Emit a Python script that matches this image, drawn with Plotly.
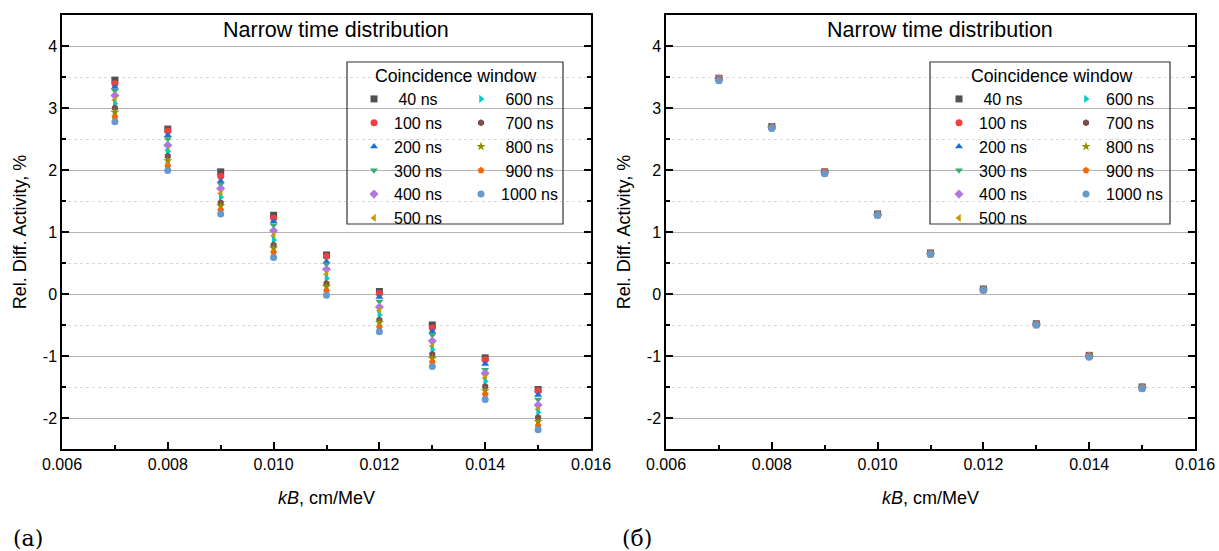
import plotly.graph_objects as go

W, H = 1219, 551

kB = [0.007, 0.008, 0.009, 0.010, 0.011, 0.012, 0.013, 0.014, 0.015]
labels = ["40 ns", "100 ns", "200 ns", "300 ns", "400 ns", "500 ns",
          "600 ns", "700 ns", "800 ns", "900 ns", "1000 ns"]
y_tickvals = [-2, -1, 0, 1, 2, 3, 4]
y_ticktext = ["-2", "-1", "0", "1", "2", "3", "4"]

# (a) series
a40 = [3.45, 2.66, 1.97, 1.27, 0.63, 0.04, -0.50, -1.03, -1.54]
a100 = [3.39, 2.63, 1.90, 1.22, 0.61, 0.01, -0.55, -1.06, -1.56]
a200 = [3.34, 2.56, 1.82, 1.17, 0.52, -0.05, -0.61, -1.13, -1.63]
a300 = [3.28, 2.50, 1.77, 1.11, 0.48, -0.12, -0.66, -1.22, -1.70]
a400 = [3.20, 2.40, 1.70, 1.02, 0.40, -0.21, -0.76, -1.28, -1.79]
a500 = [3.13, 2.32, 1.62, 0.94, 0.32, -0.27, -0.84, -1.35, -1.86]
a600 = [3.07, 2.30, 1.56, 0.87, 0.25, -0.34, -0.90, -1.41, -1.91]
a700 = [3.00, 2.22, 1.47, 0.79, 0.17, -0.42, -0.97, -1.49, -1.99]
a800 = [2.93, 2.15, 1.42, 0.74, 0.12, -0.46, -1.04, -1.56, -2.06]
a900 = [2.85, 2.06, 1.35, 0.67, 0.05, -0.54, -1.10, -1.62, -2.13]
a1000 = [2.78, 1.99, 1.29, 0.59, -0.02, -0.61, -1.17, -1.70, -2.19]

# (б) series
b40 = [3.48, 2.70, 1.97, 1.29, 0.66, 0.08, -0.48, -0.99, -1.50]
b100 = [3.48, 2.70, 1.97, 1.29, 0.66, 0.08, -0.48, -0.99, -1.50]
b200 = [3.47, 2.69, 1.97, 1.29, 0.66, 0.08, -0.48, -1.00, -1.50]
b300 = [3.47, 2.69, 1.96, 1.28, 0.66, 0.08, -0.49, -1.00, -1.51]
b400 = [3.47, 2.69, 1.96, 1.28, 0.65, 0.07, -0.49, -1.00, -1.51]
b500 = [3.46, 2.69, 1.96, 1.28, 0.65, 0.07, -0.49, -1.00, -1.51]
b600 = [3.46, 2.68, 1.96, 1.28, 0.65, 0.07, -0.49, -1.00, -1.51]
b700 = [3.46, 2.68, 1.95, 1.28, 0.65, 0.07, -0.49, -1.01, -1.52]
b800 = [3.45, 2.68, 1.95, 1.27, 0.64, 0.06, -0.50, -1.01, -1.52]
b900 = [3.45, 2.67, 1.95, 1.27, 0.64, 0.06, -0.50, -1.01, -1.52]
b1000 = [3.44, 2.67, 1.94, 1.27, 0.64, 0.06, -0.50, -1.02, -1.53]

series_a = [a40, a100, a200, a300, a400, a500, a600, a700, a800, a900, a1000]
series_b = [b40, b100, b200, b300, b400, b500, b600, b700, b800, b900, b1000]

colors = ["#515151", "#F14040", "#1A6FDF", "#37AD6B", "#B177DE", "#CC9900",
          "#00CBCC", "#7D4E4E", "#8E8E00", "#FB6501", "#6699CC"]
symbols = ["square", "circle", "triangle-up", "triangle-down", "diamond",
           "triangle-left", "triangle-right", "hexagon", "star", "pentagon", "circle"]
# left padding (non-breaking spaces) of legend labels in each panel
pads_a = [1, 0, 0, 0, 0, 0, 1, 1, 1, 1, 0]
pads_b = [1, 0, 0, 0, 0, 0, 0, 0, 0, 0, 0]

FONT = "Liberation Sans, Arial, sans-serif"

fig = go.Figure()

for series, pads, xa, ya, lg1, lg2 in [
        (series_a, pads_a, "x", "y", "legend", "legend2"),
        (series_b, pads_b, "x2", "y2", "legend3", "legend4")]:
    for i, (lab, vals) in enumerate(zip(labels, series)):
        fig.add_trace(go.Scatter(
            x=kB, y=vals, mode="markers", name="\u00a0" * pads[i] + lab,
            xaxis=xa, yaxis=ya,
            legend=lg1 if i < 6 else lg2,
            marker=dict(symbol=symbols[i], color=colors[i], size=7,
                        line=dict(width=0)),
        ))

# window-pixel -> paper coordinate helpers
def px_x(v):
    return v / W

def px_y(v):
    return 1 - v / H

dom_a = [px_x(62), px_x(591)]
dom_b = [px_x(666), px_x(1195)]
dom_y = [px_y(449), px_y(15)]

def xaxis_cfg(domain, anchor):
    return dict(
        domain=domain, anchor=anchor, range=[0.006, 0.016],
        tick0=0.006, dtick=0.002, tickformat=".3f",
        ticks="inside", ticklen=7, tickwidth=1.5, tickcolor="black",
        minor=dict(dtick=0.001, ticks="inside", ticklen=4, tickcolor="black", showgrid=False),
        showline=True, linecolor="black", linewidth=1.5, mirror=True,
        showgrid=False, zeroline=False,
        tickfont=dict(family=FONT, size=16, color="black"),
        title=dict(text="<i>kB</i>, cm/MeV", font=dict(family=FONT, size=18, color="black"), standoff=19),
        automargin=False,
    )

def yaxis_cfg(anchor):
    return dict(
        domain=dom_y, anchor=anchor, range=[-2.5, 4.5],
        tickvals=y_tickvals, ticktext=y_ticktext,
        ticks="inside", ticklen=7, tickwidth=1.5, tickcolor="black",
        minor=dict(dtick=0.5, ticks="inside", ticklen=4, tickcolor="black",
                   showgrid=True, gridcolor="#d9d9d9", griddash="dot", gridwidth=1),
        showline=True, linecolor="black", linewidth=1.5, mirror="ticks",
        showgrid=True, gridcolor="#b4b4b4", gridwidth=1.2,
        zeroline=False,
        tickfont=dict(family=FONT, size=16, color="black"),
        title=dict(text="Rel. Diff. Activity, %", font=dict(family=FONT, size=18, color="black"), standoff=12),
        automargin=False,
    )

legfont = dict(family=FONT, size=16, color="black")
legcommon = dict(font=legfont, bgcolor="rgba(0,0,0,0)", borderwidth=0,
                 xanchor="left", yanchor="top", tracegroupgap=0, itemsizing="trace")

LEG_TOP = 82
fig.update_layout(
    width=W, height=H,
    margin=dict(l=0, r=0, t=0, b=0),
    paper_bgcolor="white", plot_bgcolor="white",
    showlegend=True,
    xaxis=xaxis_cfg(dom_a, "y"),
    yaxis=yaxis_cfg("x"),
    xaxis2=xaxis_cfg(dom_b, "y2"),
    yaxis2=yaxis_cfg("x2"),
    legend=dict(x=px_x(354), y=px_y(LEG_TOP), **legcommon),
    legend2=dict(x=px_x(461), y=px_y(LEG_TOP), **legcommon),
    legend3=dict(x=px_x(939), y=px_y(LEG_TOP), **legcommon),
    legend4=dict(x=px_x(1066), y=px_y(LEG_TOP), **legcommon),
)

shapes = []
annotations = []
for (x0, x1, tcx, ttx) in [(347, 563, 455, 336), (930, 1170, 1051, 940)]:
    shapes.append(dict(type="rect", xref="paper", yref="paper",
                       x0=px_x(x0), x1=px_x(x1), y0=px_y(224), y1=px_y(62),
                       line=dict(color="#333333", width=1.2), fillcolor="rgba(255,255,255,0)"))
    annotations.append(dict(text="Coincidence window", xref="paper", yref="paper",
                            x=px_x(tcx), y=px_y(76), xanchor="center", yanchor="middle",
                            showarrow=False, font=dict(family=FONT, size=17.7, color="black")))
    annotations.append(dict(text="Narrow time distribution", xref="paper", yref="paper",
                            x=px_x(ttx), y=px_y(30), xanchor="center", yanchor="middle",
                            showarrow=False, font=dict(family=FONT, size=21.5, color="black")))

capfont = dict(family="DejaVu Serif, Liberation Serif, serif", size=22, color="black")
annotations.append(dict(text="(a)", xref="paper", yref="paper", x=px_x(28), y=px_y(538),
                        xanchor="center", yanchor="middle", showarrow=False, font=capfont))
annotations.append(dict(text="(б)", xref="paper", yref="paper", x=px_x(637), y=px_y(538),
                        xanchor="center", yanchor="middle", showarrow=False, font=capfont))

fig.update_layout(shapes=shapes, annotations=annotations)

fig.write_html("out.html",
               config={"displayModeBar": False},
               post_script="document.body.style.margin='0';document.body.style.overflow='hidden';")
